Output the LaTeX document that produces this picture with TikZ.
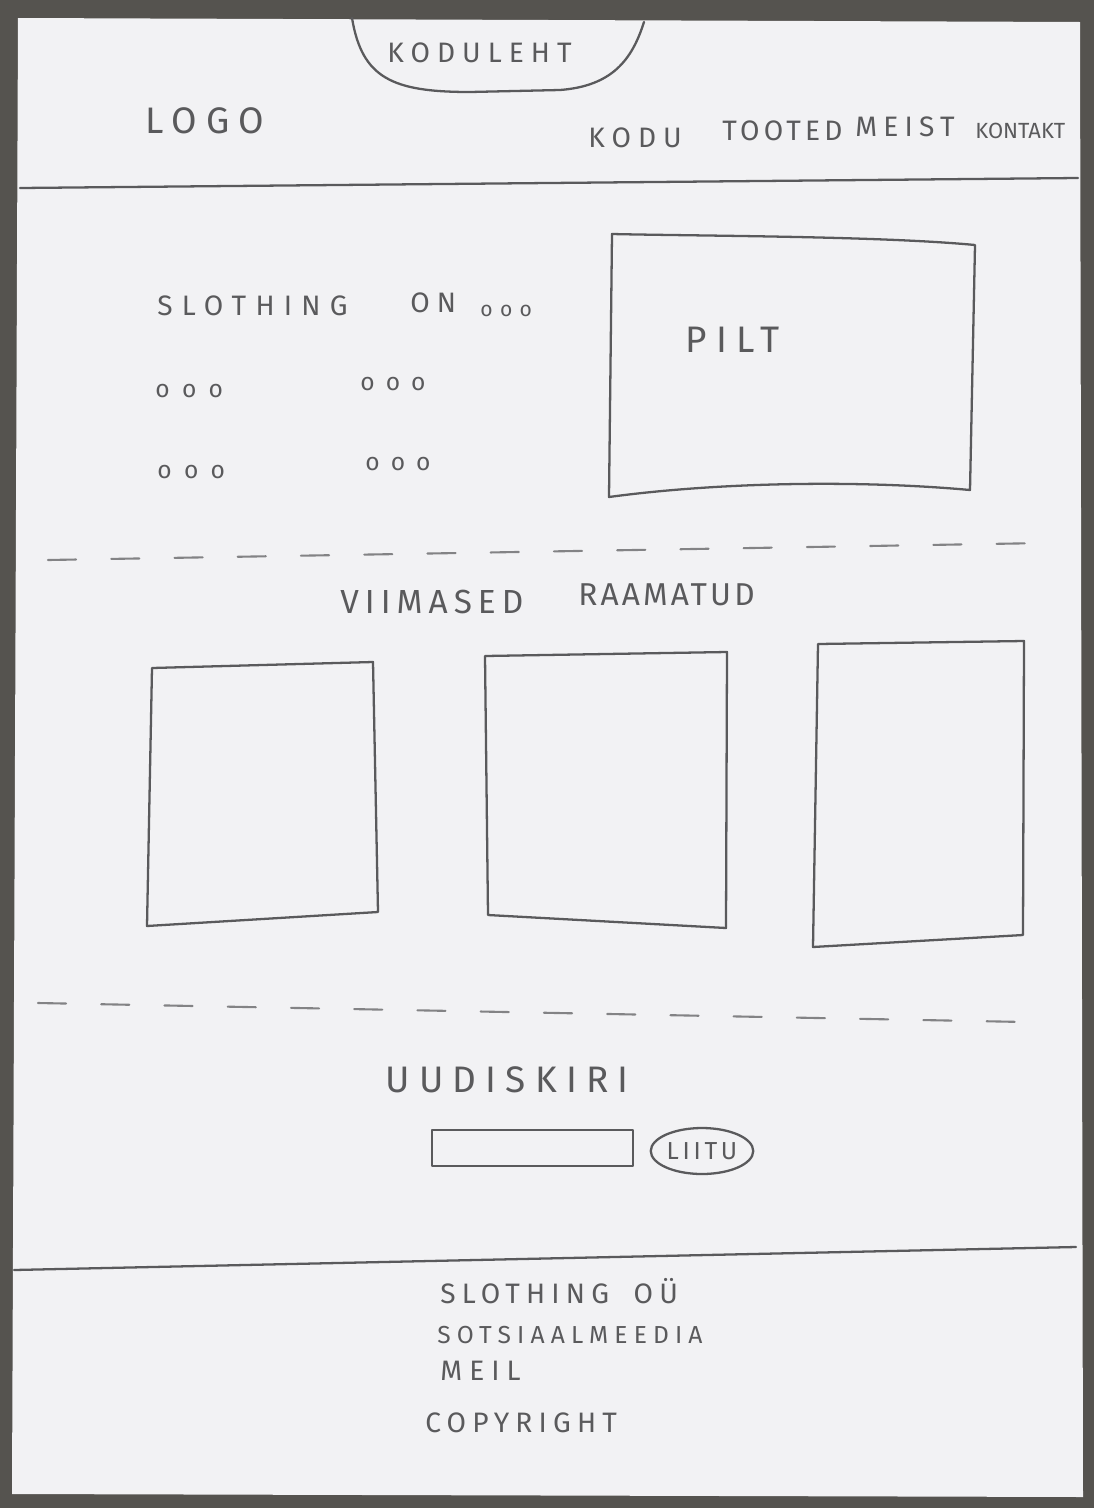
\documentclass[tikz,border=0pt]{standalone}
\usepackage{fontspec}
\setmainfont{Fira Sans}
\newfontfamily\hand{Fira Sans}
\usetikzlibrary{shapes.geometric}
\definecolor{desk}{HTML}{55534F}
\definecolor{paper}{HTML}{F2F2F4}
\definecolor{pencil}{HTML}{5A5A5C}
\tikzset{
 pen/.style={draw=pencil, line width=1.3pt, line join=round, line cap=round},
 lbl/.style 2 args={text=pencil, inner sep=0pt, anchor=base west,
   font=\hand\fontsize{#1}{#1}\selectfont\addfontfeatures{LetterSpace=#2}},
 dashline/.style={draw=pencil!75, line width=1.2pt, line cap=round, dash pattern=on 16pt off 20pt}
}
\begin{document}
\begin{tikzpicture}[x=0.02cm,y=-0.02cm]
\useasboundingbox (0,0) rectangle (1094,1508);
\fill[desk] (0,0) rectangle (1094,1508);
\fill[paper] (18,18) -- (1080,22) -- (1083,1497) -- (12,1494) -- cycle;

% header
\draw[pen] (352,18) .. controls (362,78) and (392,92) .. (470,92) -- (560,90) .. controls (612,86) and (632,60) .. (644,22);
\node[lbl={16}{25}] (kodu1) at (387,62) {KODULEHT};
\node[lbl={21}{25}] (logo) at (145,133) {LOGO};
\node[lbl={16}{25}] (navkodu) at (588,147) {KODU};
\node[lbl={16}{15}] (navtooted) at (722,140) {TOOTED};
\node[lbl={16}{22}] (navmeist) at (855,136) {MEIST};
\node[lbl={12.5}{0}] (navkontakt) at (975,138) {KONTAKT};
\draw[pen] (20,188) -- (1078,178);

% intro
\node[lbl={16}{33}] (sloth) at (157,315) {SLOTHING};
\node[lbl={16}{25}] (on) at (410,312) {ON};
\node[lbl={12}{35}] (d0) at (480,316) {ooo};
\node[lbl={14}{50}] (d1) at (155,397) {ooo};
\node[lbl={14}{45}] (d2) at (360,390) {ooo};
\node[lbl={14}{50}] (d3) at (157,478) {ooo};
\node[lbl={14}{45}] (d4) at (365,470) {ooo};
\draw[pen] (612,234) .. controls (700,236) and (880,236) .. (975,245) -- (970,490) .. controls (860,480) and (720,482) .. (609,497) -- cycle;
\node[lbl={21}{25}] (pilt) at (685,352) {PILT};

\draw[dashline] (48,560) -- (1045,543);

% books
\node[lbl={19}{18}] (viim) at (340,613) {VIIMASED};
\node[lbl={18}{10}] (raam) at (578,605) {RAAMATUD};
\draw[pen] (152,668) -- (373,662) -- (378,912) -- (147,926) -- cycle;
\draw[pen] (485,656) -- (727,652) -- (726,928) -- (488,915) -- cycle;
\draw[pen] (818,644) -- (1024,641) -- (1023,935) -- (813,947) -- cycle;

\draw[dashline] (38,1003) -- (1025,1022);

% newsletter
\node[lbl={21}{25}] (uudis) at (385,1092) {UUDISKIRI};
\node[pen, rectangle, minimum width=4.02cm, minimum height=0.72cm, inner sep=0pt] (input) at (532.5,1148) {};
\node[pen, ellipse, minimum width=2.05cm, minimum height=0.92cm, inner sep=0pt, text=pencil, font=\hand\fontsize{14}{16}\selectfont\addfontfeatures{LetterSpace=15}] (liitu) at (702,1151) {LIITU};

\draw[pen] (14,1270) -- (1076,1247);

% footer
\node[lbl={16}{22}] (f1) at (440,1303) {SLOTHING\hspace{14pt}OÜ};
\node[lbl={14}{25}] (f2) at (437,1343) {SOTSIAALMEEDIA};
\node[lbl={16}{25}] (f3) at (440,1380) {MEIL};
\node[lbl={16}{22}] (f4) at (425,1432) {COPYRIGHT};
\end{tikzpicture}
\end{document}
